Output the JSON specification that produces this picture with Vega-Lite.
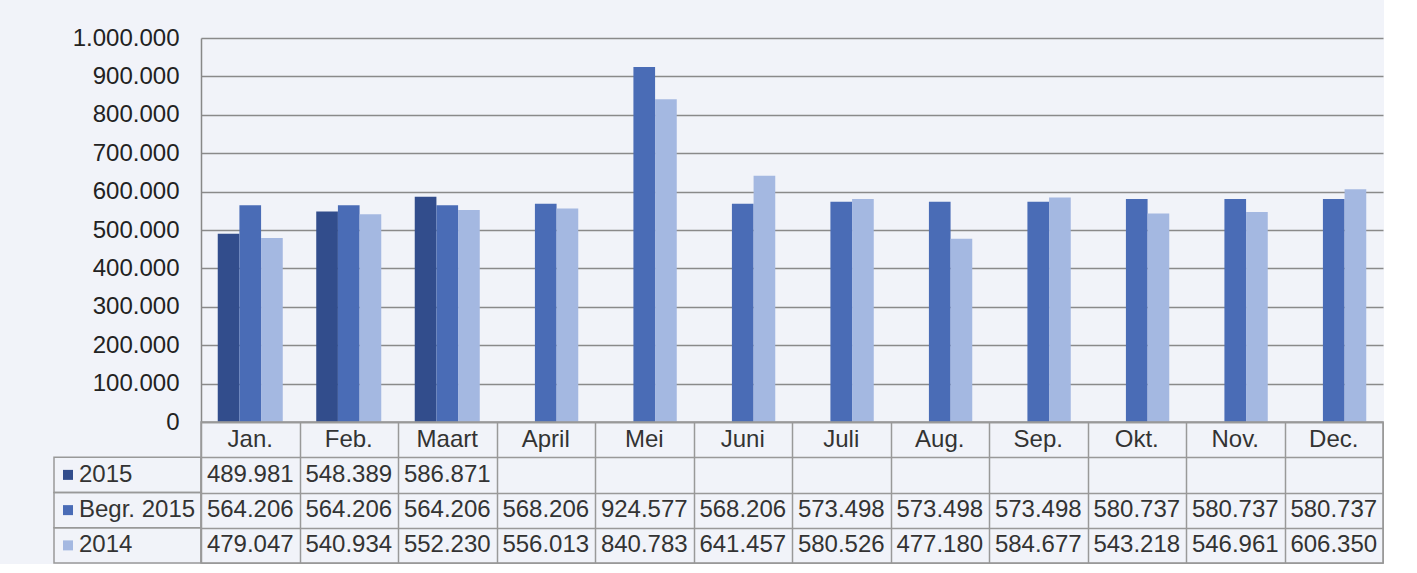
{
  "$schema": "https://vega.github.io/schema/vega-lite/v6.json",
  "background": "#f1f3f9",
  "padding": {"left": 53, "top": 26, "right": 0, "bottom": 0},
  "autosize": {"type": "pad"},
  "config": {
    "font": "Liberation Sans",
    "view": {"stroke": null},
    "locale": {"number": {"decimal": ",", "thousands": ".", "grouping": [3], "currency": ["€", ""]}}
  },
  "datasets": {
    "vals": [
      {"m": "Jan.", "s": "2015", "v": 489981},
      {"m": "Feb.", "s": "2015", "v": 548389},
      {"m": "Maart", "s": "2015", "v": 586871},
      {"m": "Jan.", "s": "Begr. 2015", "v": 564206},
      {"m": "Feb.", "s": "Begr. 2015", "v": 564206},
      {"m": "Maart", "s": "Begr. 2015", "v": 564206},
      {"m": "April", "s": "Begr. 2015", "v": 568206},
      {"m": "Mei", "s": "Begr. 2015", "v": 924577},
      {"m": "Juni", "s": "Begr. 2015", "v": 568206},
      {"m": "Juli", "s": "Begr. 2015", "v": 573498},
      {"m": "Aug.", "s": "Begr. 2015", "v": 573498},
      {"m": "Sep.", "s": "Begr. 2015", "v": 573498},
      {"m": "Okt.", "s": "Begr. 2015", "v": 580737},
      {"m": "Nov.", "s": "Begr. 2015", "v": 580737},
      {"m": "Dec.", "s": "Begr. 2015", "v": 580737},
      {"m": "Jan.", "s": "2014", "v": 479047},
      {"m": "Feb.", "s": "2014", "v": 540934},
      {"m": "Maart", "s": "2014", "v": 552230},
      {"m": "April", "s": "2014", "v": 556013},
      {"m": "Mei", "s": "2014", "v": 840783},
      {"m": "Juni", "s": "2014", "v": 641457},
      {"m": "Juli", "s": "2014", "v": 580526},
      {"m": "Aug.", "s": "2014", "v": 477180},
      {"m": "Sep.", "s": "2014", "v": 584677},
      {"m": "Okt.", "s": "2014", "v": 543218},
      {"m": "Nov.", "s": "2014", "v": 546961},
      {"m": "Dec.", "s": "2014", "v": 606350}
    ],
    "months": [
      {"m": "Jan."}, {"m": "Feb."}, {"m": "Maart"}, {"m": "April"}, {"m": "Mei"}, {"m": "Juni"},
      {"m": "Juli"}, {"m": "Aug."}, {"m": "Sep."}, {"m": "Okt."}, {"m": "Nov."}, {"m": "Dec."}
    ],
    "series": [{"s": "2015"}, {"s": "Begr. 2015"}, {"s": "2014"}]
  },
  "columns": 2,
  "spacing": 0,
  "bounds": "flush",
  "resolve": {"scale": {"x": "independent", "y": "independent", "color": "shared"}},
  "concat": [
    {
      "width": 147, "height": 384,
      "data": {"values": []},
      "mark": "text",
      "encoding": {}
    },
    {
      "width": 1182, "height": 384,
      "data": {"name": "vals"},
      "mark": {"type": "bar"},
      "encoding": {
        "x": {"field": "m", "type": "nominal",
          "scale": {"domain": ["Jan.", "Feb.", "Maart", "April", "Mei", "Juni", "Juli", "Aug.", "Sep.", "Okt.", "Nov.", "Dec."], "paddingInner": 0.34, "paddingOuter": 0.17},
          "axis": null},
        "xOffset": {"field": "s", "type": "nominal", "scale": {"domain": ["2015", "Begr. 2015", "2014"]}},
        "y": {"field": "v", "type": "quantitative",
          "scale": {"domain": [0, 1000000], "nice": false},
          "axis": {"values": [0, 100000, 200000, 300000, 400000, 500000, 600000, 700000, 800000, 900000, 1000000],
            "format": ",d", "title": null, "labelFontSize": 24, "labelColor": "#222", "labelPadding": 22,
            "ticks": false, "tickSize": 0, "domainColor": "#888", "domainWidth": 1.5,
            "grid": true, "gridColor": "#8a8a8a", "gridWidth": 1.5}},
        "color": {"field": "s", "type": "nominal",
          "scale": {"domain": ["2015", "Begr. 2015", "2014"], "range": ["#324d8c", "#4a6cb6", "#a4b8e1"]},
          "legend": null}
      }
    },
    {
      "width": 147, "height": 141,
      "data": {"name": "series"},
      "layer": [
        {
          "mark": {"type": "rect", "fill": "transparent", "stroke": "#999", "strokeWidth": 1.5},
          "encoding": {
            "x": {"value": 0}, "x2": {"value": "width"},
            "y": {"field": "s", "type": "nominal", "scale": {"domain": ["hdr", "2015", "Begr. 2015", "2014"], "paddingInner": 0, "paddingOuter": 0}, "axis": null}
          }
        },
        {
          "mark": {"type": "point", "shape": "square", "filled": true, "size": 100, "opacity": 1},
          "encoding": {
            "x": {"value": 14},
            "y": {"field": "s", "type": "nominal", "axis": null},
            "color": {"field": "s", "type": "nominal", "legend": null}
          }
        },
        {
          "mark": {"type": "text", "align": "left", "fontSize": 24, "color": "#333"},
          "encoding": {
            "x": {"value": 25},
            "y": {"field": "s", "type": "nominal", "axis": null},
            "text": {"field": "s"}
          }
        }
      ]
    },
    {
      "width": 1182, "height": 141,
      "view": {"stroke": "#999", "strokeWidth": 1.5},
      "layer": [
        {
          "data": {"name": "months"},
          "mark": {"type": "text", "fontSize": 24, "color": "#333"},
          "encoding": {
            "x": {"field": "m", "type": "nominal",
              "scale": {"domain": ["Jan.", "Feb.", "Maart", "April", "Mei", "Juni", "Juli", "Aug.", "Sep.", "Okt.", "Nov.", "Dec."], "paddingInner": 0, "paddingOuter": 0},
              "axis": {"labels": false, "ticks": false, "domain": false, "grid": true, "tickBand": "extent", "gridColor": "#999", "gridWidth": 1.5, "title": null}},
            "y": {"datum": "hdr", "type": "nominal",
              "scale": {"domain": ["hdr", "2015", "Begr. 2015", "2014"], "paddingInner": 0, "paddingOuter": 0},
              "axis": {"labels": false, "ticks": false, "domain": false, "grid": true, "tickBand": "extent", "gridColor": "#999", "gridWidth": 1.5, "title": null}},
            "text": {"field": "m"}
          }
        },
        {
          "data": {"name": "vals"},
          "mark": {"type": "text", "fontSize": 24, "color": "#333"},
          "encoding": {
            "x": {"field": "m", "type": "nominal"},
            "y": {"field": "s", "type": "nominal"},
            "text": {"field": "v", "format": ",d"}
          }
        }
      ]
    }
  ]
}
